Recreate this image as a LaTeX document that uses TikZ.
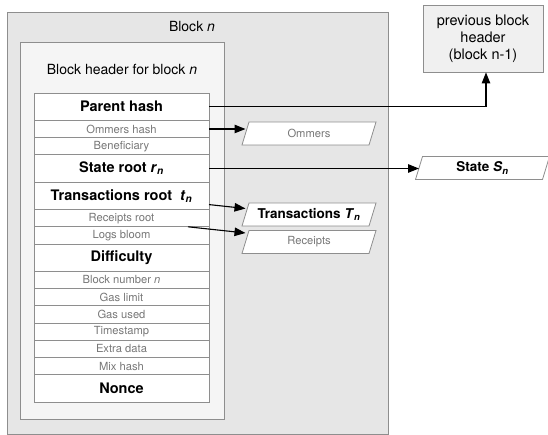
\documentclass[tikz,border=0pt]{standalone}
\usepackage{fontspec}
\setmainfont{TeX Gyre Heros}
\usetikzlibrary{positioning,arrows.meta}
\definecolor{blockgray}{HTML}{E6E6E6}
\definecolor{headergray}{HTML}{F5F5F5}
\definecolor{prevgray}{HTML}{F0F0F0}
\definecolor{linegray}{HTML}{8E8E8E}
\definecolor{textgray}{HTML}{777777}
\tikzset{
  bigfield/.style={draw=linegray, line width=0.8pt, fill=white, minimum width=175pt, minimum height=27.4pt,
    inner sep=0pt, outer sep=0pt, font=\fontsize{14.5}{16}\selectfont\bfseries},
  smallfield/.style={draw=linegray, line width=0.8pt, fill=white, minimum width=175pt, minimum height=17.2pt,
    inner sep=0pt, outer sep=0pt, text=textgray, font=\fontsize{11.2}{12}\selectfont},
  sidebox/.style={minimum width=127pt, minimum height=23pt, inner sep=0pt, outer sep=0pt,
    append after command={\pgfextra{\draw[linegray, line width=0.8pt, fill=white]
      ([xshift=3.5pt]\tikzlastnode.north west) -- ([xshift=3.5pt]\tikzlastnode.north east)
      -- ([xshift=-3.5pt]\tikzlastnode.south east) -- ([xshift=-3.5pt]\tikzlastnode.south west) -- cycle;}}},
  sidetext/.style={text=textgray, font=\fontsize{11.2}{12}\selectfont},
  boldtext/.style={font=\fontsize{13.5}{15}\selectfont\bfseries},
  link/.style={line width=1.1pt, -{Triangle[length=11pt,width=8.5pt]}}
}
\begin{document}
\begin{tikzpicture}[x=1pt,y=-1pt]
  \useasboundingbox (0,0) rectangle (548,435);
  % block and header frames
  \draw[linegray, line width=0.8pt, fill=blockgray] (7,12) rectangle (388,434);
  \node[font=\fontsize{14}{16}\selectfont] (blocklabel) at (192,27) {Block \textit{n}};
  \draw[linegray, line width=0.8pt, fill=headergray] (20,42) rectangle (224,419);
  \node[font=\fontsize{14}{16}\selectfont] (headerlabel) at (122,69) {Block header for block \textit{n}};
  % header fields
  \node[bigfield] (parenthash) at (121.5,106.7) {Parent hash};
  \node[smallfield, below=0pt of parenthash] (ommershash) {Ommers hash};
  \node[smallfield, below=0pt of ommershash] (beneficiary) {Beneficiary};
  \node[bigfield, below=0pt of beneficiary] (stateroot) {State root \textit{r}\textsubscript{\textit{n}}};
  \node[bigfield, below=0pt of stateroot] (txroot) {Transactions root\ \ \textit{t}\textsubscript{\textit{n}}};
  \node[smallfield, below=0pt of txroot] (receiptsroot) {Receipts root};
  \node[smallfield, below=0pt of receiptsroot] (logsbloom) {Logs bloom};
  \node[bigfield, below=0pt of logsbloom] (difficulty) {Difficulty};
  \node[smallfield, below=0pt of difficulty] (blocknumber) {Block number \textit{n}};
  \node[smallfield, below=0pt of blocknumber] (gaslimit) {Gas limit};
  \node[smallfield, below=0pt of gaslimit] (gasused) {Gas used};
  \node[smallfield, below=0pt of gasused] (timestamp) {Timestamp};
  \node[smallfield, below=0pt of timestamp] (extradata) {Extra data};
  \node[smallfield, below=0pt of extradata] (mixhash) {Mix hash};
  \node[bigfield, below=0pt of mixhash] (nonce) {Nonce};
  % outside items
  \node[draw=linegray, line width=0.8pt, fill=prevgray, minimum width=120pt, minimum height=67pt, align=center,
    font=\fontsize{14.5}{17}\selectfont] (prev) at (483,38.5) {previous block\\header\\(block n-1)};
  \node[sidebox] (ommers) at (309,133.5) {};
  \node[sidetext] (ommerstext) at (ommers) {Ommers};
  \node[sidebox] (state) at (482.5,168) {};
  \node[boldtext] (statetext) at (state) {State \textit{S}\textsubscript{\textit{n}}};
  \node[sidebox] (transactions) at (309,214.5) {};
  \node[boldtext] (transactionstext) at (transactions) {Transactions \textit{T}\textsubscript{\textit{n}}};
  \node[sidebox] (receipts) at (309,242) {};
  \node[sidetext] (receiptstext) at (receipts) {Receipts};
  % links
  \coordinate (logsstart) at ([xshift=-21pt]receiptsroot.south east);
  \draw[link] (parenthash.east) -| ([xshift=3pt]prev.south);
  \draw[link] (ommershash.east) -- (ommershash.east -| ommers.west);
  \draw[link] (stateroot.east) -- (stateroot.east -| state.west);
  \draw[link] ([yshift=5pt]txroot.south east) -- ([yshift=6pt]transactions.west);
  \draw[link] (logsstart) -- ([yshift=9pt]receipts.west);
\end{tikzpicture}
\end{document}
